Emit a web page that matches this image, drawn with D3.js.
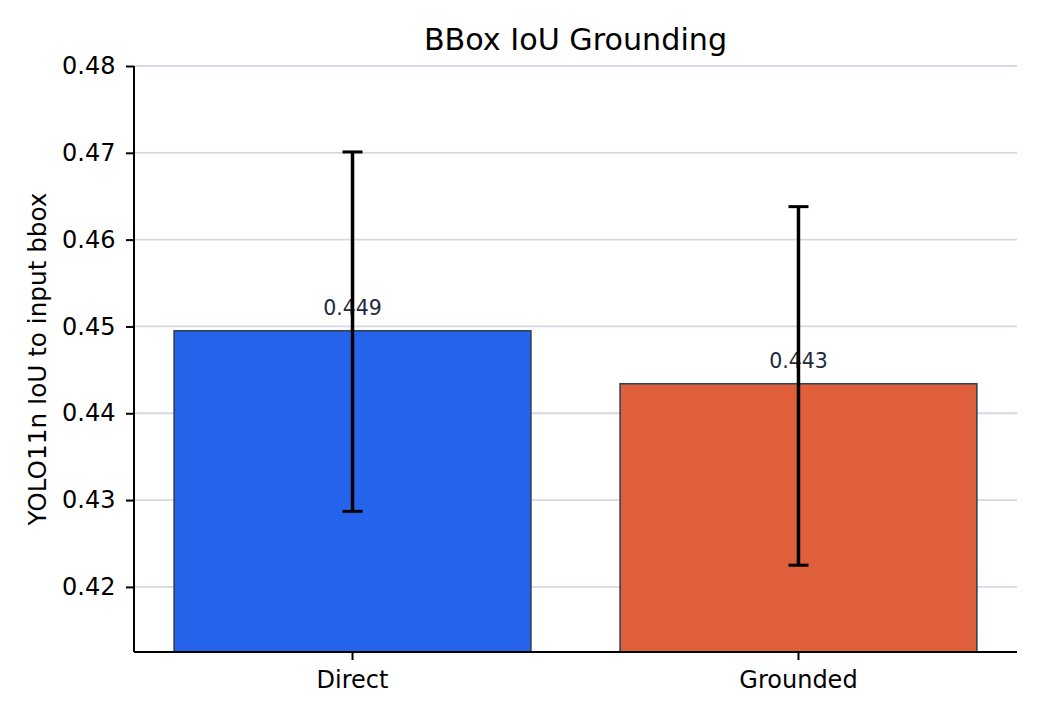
<!DOCTYPE html>
<html>
<head>
<meta charset="utf-8">
<title>BBox IoU Grounding</title>
<script src="https://d3js.org/d3.v7.min.js"></script>
<style>
    body { margin: 0; background: #fff; }
    svg { display: block; font-family: "DejaVu Sans", sans-serif; }
</style>
</head>
<body>
<div id="chart"></div>
<script>
// data
const categories = ["Direct", "Grounded"];
const means = [0.4495, 0.4434];
const errLow = [0.4287, 0.4225];
const errHigh = [0.4701, 0.4638];
const barLabels = ["0.449", "0.443"];
const barColors = ["#2563eb", "#de5f3a"];
const yTicks = [0.42, 0.43, 0.44, 0.45, 0.46, 0.47, 0.48];

const width = 1044, height = 720;
const margin = {top: 66, right: 27, bottom: 68, left: 134};
const w = width - margin.left - margin.right;
const h = height - margin.top - margin.bottom;

const svg = d3.select("#chart").append("svg")
    .attr("width", width)
    .attr("height", height);

const g = svg.append("g")
    .attr("transform", "translate(" + margin.left + "," + margin.top + ")");

const x = d3.scaleBand()
    .domain(categories)
    .range([0, w])
    .paddingInner(0.2)
    .paddingOuter(0.09);

const y = d3.scaleLinear()
    .domain([0.4125, 0.48])
    .range([h, 0]);

// gridlines
g.append("g")
    .selectAll("line")
    .data(yTicks)
    .join("line")
    .attr("x1", 0)
    .attr("x2", w)
    .attr("y1", d => y(d))
    .attr("y2", d => y(d))
    .attr("stroke", "#d6d9e4")
    .attr("stroke-width", 1.8);

// bars
const rows = categories.map((c, i) => ({c: c, v: means[i], lo: errLow[i], hi: errHigh[i], lab: barLabels[i], col: barColors[i]}));

g.selectAll("rect.bar")
    .data(rows)
    .join("rect")
    .attr("class", "bar")
    .attr("x", d => x(d.c))
    .attr("width", x.bandwidth())
    .attr("y", d => y(d.v))
    .attr("height", d => h - y(d.v))
    .attr("fill", d => d.col)
    .attr("stroke", "#334155")
    .attr("stroke-width", 1.6);

// value labels
g.selectAll("text.val")
    .data(rows)
    .join("text")
    .attr("class", "val")
    .attr("x", d => x(d.c) + x.bandwidth() / 2)
    .attr("y", d => y(d.v) - 16)
    .attr("text-anchor", "middle")
    .attr("font-size", "20.5px")
    .attr("fill", "#1e293b")
    .text(d => d.lab);

// error bars
const eb = g.selectAll("g.err")
    .data(rows)
    .join("g")
    .attr("class", "err")
    .attr("transform", d => "translate(" + (x(d.c) + x.bandwidth() / 2) + ",0)");

eb.append("line")
    .attr("y1", d => y(d.lo))
    .attr("y2", d => y(d.hi))
    .attr("stroke", "#000")
    .attr("stroke-width", 3.5);

eb.append("line")
    .attr("x1", -10).attr("x2", 10)
    .attr("y1", d => y(d.hi)).attr("y2", d => y(d.hi))
    .attr("stroke", "#000")
    .attr("stroke-width", 3);

eb.append("line")
    .attr("x1", -10).attr("x2", 10)
    .attr("y1", d => y(d.lo)).attr("y2", d => y(d.lo))
    .attr("stroke", "#000")
    .attr("stroke-width", 3);

// axes
const yAxis = d3.axisLeft(y)
    .tickValues(yTicks)
    .tickFormat(d3.format(".2f"))
    .tickSize(8)
    .tickPadding(10.5);

const xAxis = d3.axisBottom(x)
    .tickSize(8)
    .tickPadding(11);

const gy = g.append("g").call(yAxis);
const gx = g.append("g").attr("transform", "translate(0," + h + ")").call(xAxis);

[gy, gx].forEach(a => {
    a.selectAll("text")
        .attr("font-family", "DejaVu Sans, sans-serif")
        .attr("font-size", "24px")
        .attr("fill", "#000");
    a.selectAll("line").attr("stroke", "#000").attr("stroke-width", 2);
    a.select(".domain").attr("stroke", "#000").attr("stroke-width", 2);
});
gy.select(".domain").attr("d", "M0," + h + "V0");
gx.select(".domain").attr("d", "M0,0H" + w);

// y label
svg.append("text")
    .attr("transform", "translate(45.5," + (margin.top + h / 2) + ") rotate(-90)")
    .attr("text-anchor", "middle")
    .attr("font-size", "24.7px")
    .attr("fill", "#000")
    .text("YOLO11n IoU to input bbox");

// title
svg.append("text")
    .attr("x", margin.left + w / 2)
    .attr("y", 50)
    .attr("text-anchor", "middle")
    .attr("font-size", "30.2px")
    .attr("fill", "#000")
    .text("BBox IoU Grounding");
</script>
</body>
</html>
